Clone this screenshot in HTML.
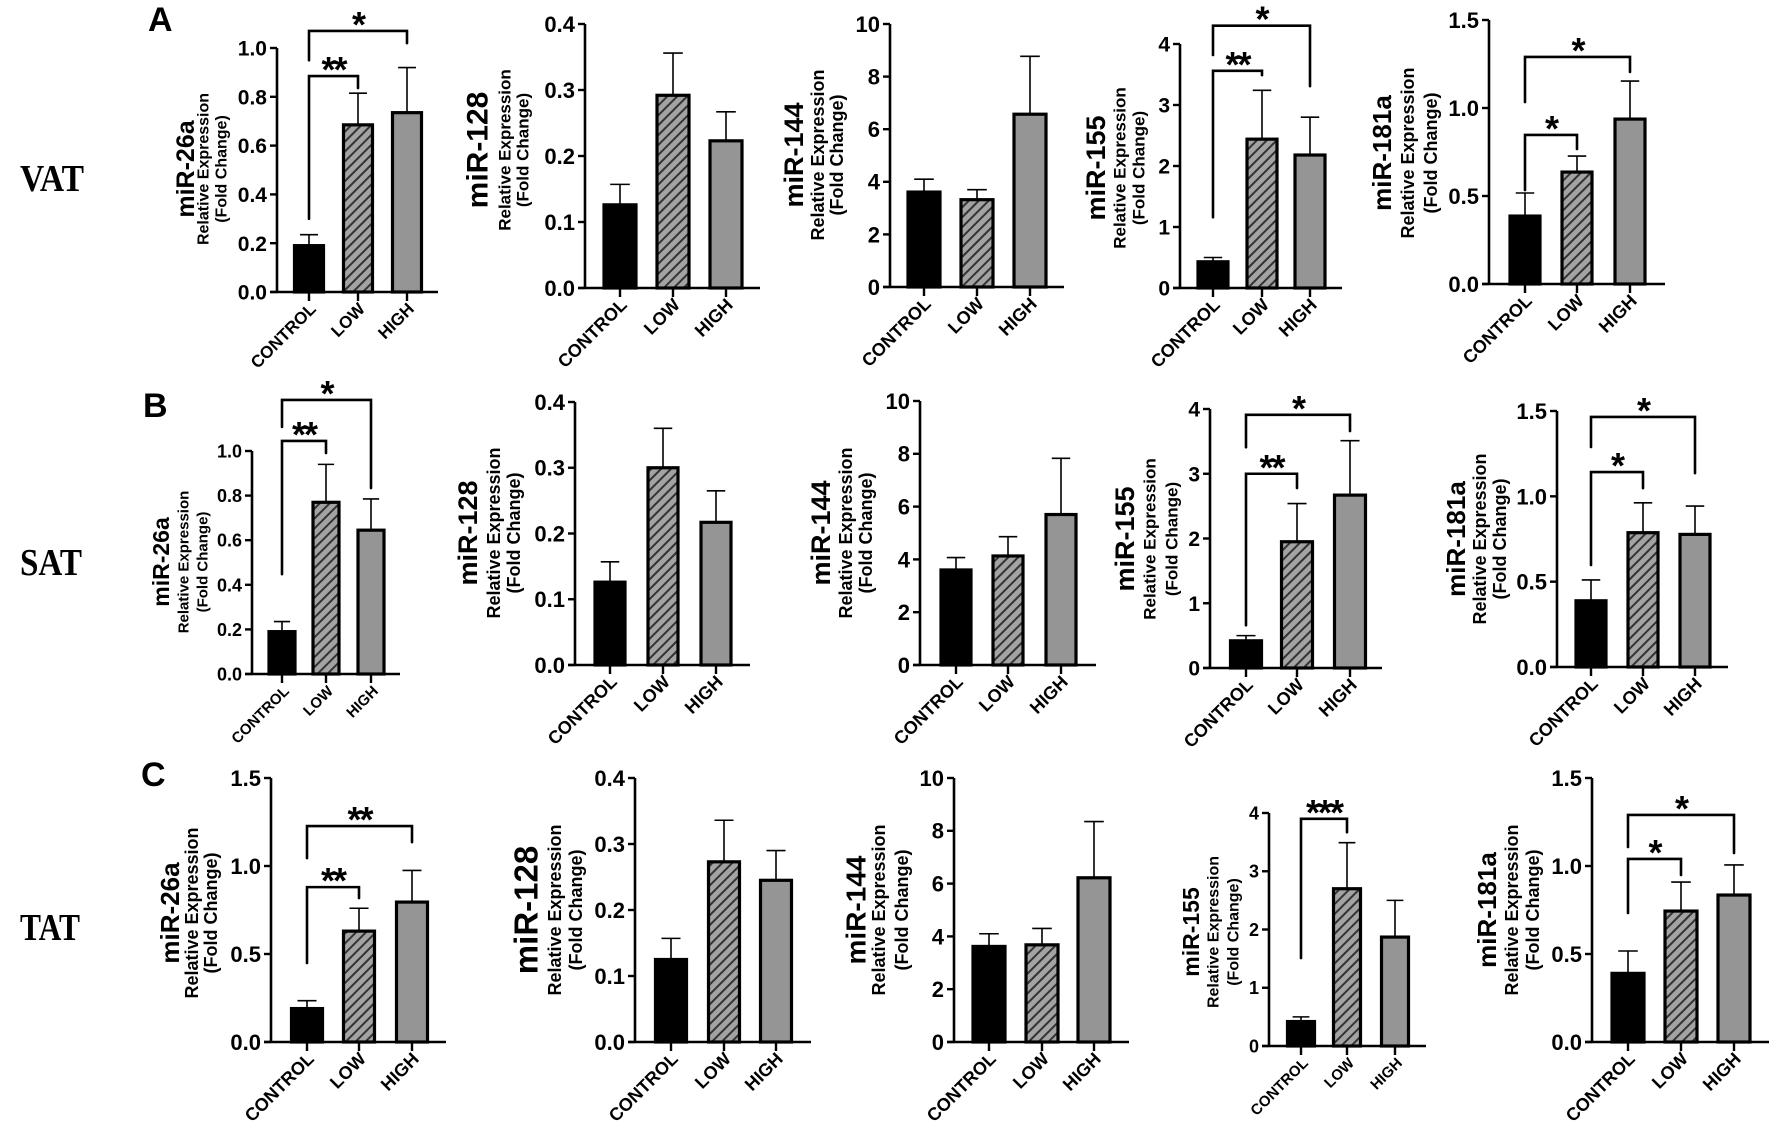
<!DOCTYPE html>
<html><head><meta charset="utf-8">
<style>
html,body{margin:0;padding:0;background:#fff;}
svg{display:block;}
text{font-family:"Liberation Sans",Arial,sans-serif;font-weight:bold;fill:#000;}
.tick{font-family:"Liberation Sans Narrow","Liberation Sans",sans-serif;}
.row{font-family:"Liberation Serif",serif;}
</style></head>
<body>
<svg id="fig" width="1772" height="1140" viewBox="0 0 1772 1140" xmlns="http://www.w3.org/2000/svg">
<defs>
<pattern id="hatch" patternUnits="userSpaceOnUse" width="7" height="7" patternTransform="rotate(45)">
<rect width="7" height="7" fill="#a3a3a3"/>
<rect x="0" y="0" width="2" height="7" fill="#333"/>
</pattern>
</defs>
<text x="148" y="31" font-size="34">A</text>
<text x="143" y="417" font-size="34">B</text>
<text x="141" y="786" font-size="34">C</text>
<text class="row" x="20" y="191" font-size="38" textLength="64" lengthAdjust="spacingAndGlyphs">VAT</text>
<text class="row" x="20" y="575" font-size="38" textLength="62" lengthAdjust="spacingAndGlyphs">SAT</text>
<text class="row" x="20" y="940" font-size="38" textLength="60" lengthAdjust="spacingAndGlyphs">TAT</text>
<g id="panels"></g>
</svg>
<script>
// ---- data ----
const categories = ["CONTROL","LOW","HIGH"];
const geneNames = ["miR-26a","miR-128","miR-144","miR-155","miR-181a",
                   "miR-26a","miR-128","miR-144","miR-155","miR-181a",
                   "miR-26a","miR-128","miR-144","miR-155","miR-181a"];
const meanValues = [
  [0.19,0.685,0.735],[0.126,0.292,0.223],[3.61,3.32,6.57],[0.43,2.44,2.18],[0.386,0.636,0.937],
  [0.19,0.77,0.645],[0.126,0.30,0.217],[3.6,4.13,5.7],[0.42,1.95,2.67],[0.388,0.787,0.777],
  [0.19,0.63,0.795],[0.125,0.273,0.245],[3.62,3.68,6.22],[0.42,2.7,1.87],[0.39,0.744,0.835]
];
const errTopValues = [
  [0.235,0.815,0.92],[0.157,0.356,0.267],[4.1,3.7,8.77],[0.5,3.24,2.8],[0.517,0.727,1.153],
  [0.235,0.94,0.785],[0.157,0.36,0.265],[4.07,4.86,7.83],[0.5,2.54,3.51],[0.51,0.962,0.943],
  [0.235,0.76,0.975],[0.157,0.336,0.29],[4.1,4.3,8.35],[0.5,3.49,2.5],[0.517,0.909,1.006]
];
const tickLabelSets = [
  ["0.0","0.2","0.4","0.6","0.8","1.0"],["0.0","0.1","0.2","0.3","0.4"],["0","2","4","6","8","10"],["0","1","2","3","4"],["0.0","0.5","1.0","1.5"],
  ["0.0","0.2","0.4","0.6","0.8","1.0"],["0.0","0.1","0.2","0.3","0.4"],["0","2","4","6","8","10"],["0","1","2","3","4"],["0.0","0.5","1.0","1.5"],
  ["0.0","0.5","1.0","1.5"],["0.0","0.1","0.2","0.3","0.4"],["0","2","4","6","8","10"],["0","1","2","3","4"],["0.0","0.5","1.0","1.5"]
];
// significance brackets: [fromIdx, toIdx, level, legFrom, legTo, label]
const brackets = [
  [[0,1,0.885,0.30,0.836,"**"],[0,2,1.07,0.95,1.02,"*"]],
  [],[],
  [[0,1,3.56,1.16,3.49,"**"],[0,2,4.30,3.82,3.31,"*"]],
  [[0,1,0.847,0.534,0.767,"*"],[0,2,1.29,1.034,1.205,"*"]],
  [[0,1,1.045,0.448,0.991,"**"],[0,2,1.229,1.108,0.834,"*"]],
  [],[],
  [[0,1,3.0,0.66,2.78,"**"],[0,2,3.91,3.41,3.66,"*"]],
  [[0,1,1.142,0.598,1.048,"*"],[0,2,1.465,1.289,1.136,"*"]],
  [[0,1,0.88,0.449,0.818,"**"],[0,2,1.227,1.045,1.136,"**"]],
  [],[],
  [[0,1,3.9,1.51,3.67,"***"]],
  [[0,1,1.04,0.733,0.949,"*"],[0,2,1.29,1.108,1.074,"*"]]
];
// ---- layout (pixels) ----
// [axisX, yTopPx, y0Px, xEnd, c0, c1, c2, barW, labX1, labX2, labX3, labY, titleSize, subSize, tickSize, xlabSize]
const layout = [
  [277,48,292,438, 309,358,407,32, 186,204,222,169, 25,16,21,17],
  [585,24,288,760, 620,673,726,35, 478,505,523,150, 30,17,22,18],
  [890,24,287,1064, 924,977,1030,35, 794,818,837,155, 27,18,22,18],
  [1180,44,288,1342, 1213,1262,1310,33, 1096,1120,1139,168, 27,17,21,18],
  [1489,20,284,1665, 1525,1577,1630,33, 1382,1408,1431,153, 26,18,22,18],
  [252,451,674,400, 282,326,371,29, 161,184,203,562, 23,15,18,15],
  [575,402,665,750, 610,663,716,33, 468,494,514,533, 27,18,22,18],
  [920,401,665,1096, 956,1008,1061,33, 821,846,866,533, 27,18,22,18],
  [1210,409,668,1382, 1246,1297,1350,34, 1125,1150,1172,539, 27,17,21,18],
  [1557,411,667,1728, 1591,1643,1695,33, 1456,1480,1500,539, 26,18,22,18],
  [271,778,1042,446, 307,359,412,34, 170,192,211,913, 26,18,22,18],
  [635,778,1042,811, 671,724,776,34, 526,555,576,910, 33,18,22,18],
  [954,778,1042,1129, 989,1042,1094,35, 856,879,902,910, 28,18,22,18],
  [1269,813,1046,1426, 1301,1347,1395,30, 1191,1214,1234,932, 23,16,18,15],
  [1592,778,1042,1769, 1628,1681,1734,35, 1487,1512,1533,910, 26,18,22,18]
];
const fills = ["#000","url(#hatch)","#959595"];
const NS = "http://www.w3.org/2000/svg";
const root = document.getElementById("panels");
function mk(tag, attrs, parent){
  const e = document.createElementNS(NS, tag);
  for (const k in attrs) e.setAttribute(k, attrs[k]);
  parent.appendChild(e); return e;
}
const rowKeys = ["vat","sat","tat"];
for (let p = 0; p < 15; p++) {
  const L = layout[p];
  const [ax, yTop, y0, xEnd] = L;
  const centers = [L[4], L[5], L[6]];
  const bw = L[7];
  const ticks = tickLabelSets[p];
  const yMax = parseFloat(ticks[ticks.length-1]);
  const y = v => y0 - (v / yMax) * (y0 - yTop);
  const g = mk("g", {}, root);
  
  
  const lab = [[L[8], geneNames[p], L[12]], [L[9], "Relative Expression", L[13]], [L[10], "(Fold Change)", L[13]]];
  lab.forEach((t, i) => {
    const tx = mk("text", {x:0, y:0, "font-size":t[2], "text-anchor":"middle", "dominant-baseline":"central",
      transform:"translate(" + t[0] + "," + L[11] + ") rotate(-90)"}, g);
    
    
    tx.textContent = t[1];
  });
  for (let i = 0; i < 3; i++) {
    const m = meanValues[p][i], e = errTopValues[p][i], cx = centers[i];
    const eb = mk("line", {x1:cx, x2:cx, y1:y(m), y2:y(e), stroke:"#000", "stroke-width":1.6}, g);
    
    
    const cap = mk("line", {x1:cx - bw*0.28, x2:cx + bw*0.28, y1:y(e), y2:y(e), stroke:"#000", "stroke-width":1.6}, g);
    
    
    const r = mk("rect", {x:cx - bw/2 + 1.5, y:y(m), width:bw - 3, height:y0 - y(m), fill:fills[i], stroke:"#000", "stroke-width":3.2}, g);
    
    
  }
  const ya = mk("line", {x1:ax, x2:ax, y1:yTop, y2:y0 + 1, stroke:"#000", "stroke-width":2.6}, g);
  
  
  const xa = mk("line", {x1:ax - 7, x2:xEnd, y1:y0, y2:y0, stroke:"#000", "stroke-width":2.6}, g);
  
  
  ticks.forEach(tl => {
    const v = parseFloat(tl), ty = y(v);
    mk("line", {x1:ax - 7, x2:ax, y1:ty, y2:ty, stroke:"#000", "stroke-width":2.4}, g);
    const t = mk("text", {x:ax - 10, y:ty + L[14]*0.36, "font-size":L[14], "text-anchor":"end", "class":"tick"}, g);
    
    
    t.textContent = tl;
  });
  categories.forEach((c, i) => {
    const cx = centers[i];
    mk("line", {x1:cx, x2:cx, y1:y0, y2:y0 + 9, stroke:"#000", "stroke-width":2.4}, g);
    const t = mk("text", {x:0, y:0, "font-size":L[15], "text-anchor":"end",
      transform:"translate(" + (cx + 8) + "," + (y0 + 18) + ") rotate(-45)"}, g);
    
    
    t.textContent = c;
  });
  brackets[p].forEach(b => {
    const xa1 = centers[b[0]], xb1 = centers[b[1]];
    const lv = y(b[2]);
    const pth = mk("path", {d:"M" + xa1 + "," + y(b[3]) + " V" + lv + " H" + xb1 + " V" + y(b[4]),
      fill:"none", stroke:"#000", "stroke-width":2.6, "stroke-linecap":"round"}, g);
    
    
    const st = mk("text", {x:(xa1 + xb1)/2, y:lv + 6, "font-size":36, "text-anchor":"middle", "letter-spacing":"-2"}, g);
    
    
    st.textContent = b[5];
  });
}
</script>
</body></html>
